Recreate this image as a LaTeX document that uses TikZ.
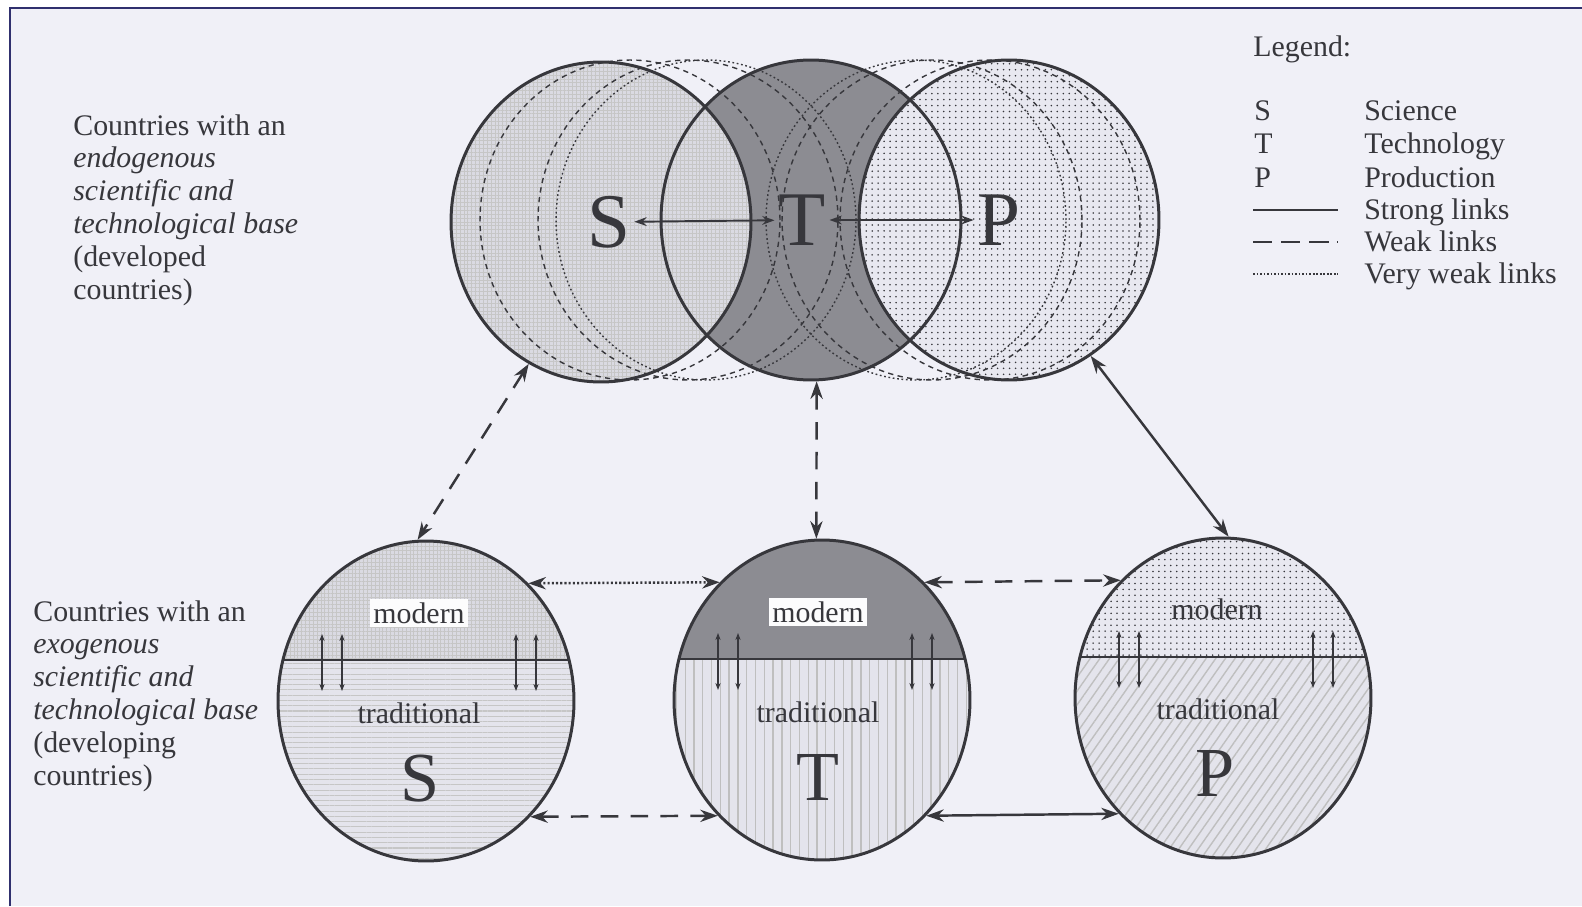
\documentclass[tikz,border=0pt]{standalone}
\usepackage{fontspec}
\setmainfont{Liberation Serif}
\usetikzlibrary{shapes.geometric,arrows.meta,patterns.meta,calc}

\definecolor{paper}{RGB}{240,240,247}
\definecolor{framecol}{RGB}{48,48,110}
\definecolor{ink}{RGB}{55,55,60}
\definecolor{techgray}{RGB}{140,140,146}
\definecolor{scigray}{RGB}{218,218,226}
\definecolor{prodgray}{RGB}{232,232,240}
\definecolor{tradgray}{RGB}{228,228,236}

\begin{document}
\begin{tikzpicture}[x=0.02cm, y=-0.02cm,
    every node/.style={font=\fontsize{17}{18.7}\selectfont, text=ink},
    bigcircle/.style={draw=ink, line width=1.7pt, ellipse, minimum width=6cm, minimum height=6.4cm, inner sep=0pt},
    smallcircle/.style={bigcircle, minimum width=5.92cm},
    bigletter/.style={font=\fontsize{44}{44}\selectfont, inner sep=2pt},
    lowletter/.style={font=\fontsize{40}{40}\selectfont, inner sep=2pt},
    modbox/.style={fill=white!80!paper, inner sep=2pt},
    linkstrong/.style={draw=ink, line width=1.4pt, {Stealth[length=10pt,width=7pt]}-{Stealth[length=10pt,width=7pt]}},
    linkweak/.style={linkstrong, dash pattern=on 10pt off 7pt},
    linkvweak/.style={linkstrong, dash pattern=on 1.2pt off 1.2pt},
    linkthin/.style={draw=ink, line width=1.1pt, {Stealth[length=7pt,width=5pt]}-{Stealth[length=7pt,width=5pt]}},
    tinylink/.style={draw=ink, line width=0.6pt, {Stealth[length=4pt,width=3pt]}-{Stealth[length=4pt,width=3pt]}},
    ghostdash/.style={draw=ink, line width=0.8pt, dash pattern=on 3pt off 2.5pt},
    ghostdot/.style={draw=ink, line width=0.8pt, dash pattern=on 1pt off 1.5pt},
    scimod/.style={preaction={fill=scigray}, pattern={Hatch[distance=2.2pt, line width=0.25pt]}, pattern color=gray!45},
    scitrad/.style={preaction={fill=tradgray}, pattern={Lines[angle=0, distance=3pt, line width=0.6pt]}, pattern color=gray!45},
    techmod/.style={fill=techgray},
    techtrad/.style={preaction={fill=tradgray}, pattern={Lines[angle=90, distance=5pt, line width=0.8pt]}, pattern color=gray!50},
    prodmod/.style={preaction={fill=prodgray}, pattern={Dots[distance=3.4pt, radius=0.5pt]}, pattern color=ink},
    prodtrad/.style={preaction={fill=tradgray}, pattern={Lines[angle=55, distance=4.5pt, line width=0.8pt]}, pattern color=gray!50},
    legline/.style={draw=ink, line width=1.6pt}]

    \useasboundingbox (0,0) rectangle (1582,906);
    \fill[white] (0,0) rectangle (1582,906);
    \fill[paper] (10,8) rectangle (1582,906);
    \draw[framecol, line width=1.5pt] (10,906) -- (10,8) -- (1582,8);

    \coordinate (topS) at (601,222);
    \coordinate (topT) at (811,220);
    \coordinate (topP) at (1009,220);
    \coordinate (lowS) at (426,701);
    \coordinate (lowT) at (822,700);
    \coordinate (lowP) at (1223,698);

    \fill[techmod] (topT) ellipse [x radius=3cm, y radius=3.2cm];
    \fill[scimod] (topS) ellipse [x radius=3cm, y radius=3.2cm];
    \fill[prodmod] (topP) ellipse [x radius=3cm, y radius=3.2cm];
    \foreach \x in {630,688,932,990}
      \draw[ghostdash] (\x,220) ellipse [x radius=3cm, y radius=3.2cm];
    \foreach \x in {706,916}
      \draw[ghostdot] (\x,220) ellipse [x radius=3cm, y radius=3.2cm];

    \node[bigcircle] (tS) at (topS) {};
    \node[bigcircle] (tT) at (topT) {};
    \node[bigcircle] (tP) at (topP) {};

    \node[bigletter] (ltS) at (609,222) {S};
    \node[bigletter] (ltT) at (802,220) {T};
    \node[bigletter] (ltP) at (999,220) {P};
    \draw[linkthin] (ltS) -- (ltT);
    \draw[linkthin] (ltT) -- (ltP);

    \foreach \c/\up/\down in {S/scimod/scitrad, T/techmod/techtrad, P/prodmod/prodtrad} {
      \begin{scope}
        \clip (low\c) ellipse [x radius=2.96cm, y radius=3.2cm];
        \fill[\up] ($(low\c)+(-160,-170)$) rectangle ($(low\c)+(160,-41)$);
        \fill[\down] ($(low\c)+(-160,-41)$) rectangle ($(low\c)+(160,170)$);
        \draw[ink, line width=1.5pt] ($(low\c)+(-160,-41)$) -- ($(low\c)+(160,-41)$);
      \end{scope}
      \foreach \dx in {-104,-84,90,110}
        \draw[tinylink] ($(low\c)+(\dx,-67)$) -- ++(0,57);
    }

    \node[smallcircle] (bS) at (lowS) {};
    \node[smallcircle] (bT) at (lowT) {};
    \node[smallcircle] (bP) at (lowP) {};

    \node[modbox] (mS) at (419,613) {modern};
    \node[modbox] (mT) at (818,612) {modern};
    \node[inner sep=2pt] (mP) at (1217,609) {modern};
    \node (trS) at (419,713) {traditional};
    \node (trT) at (818,712) {traditional};
    \node (trP) at (1218,709) {traditional};
    \node[lowletter] (lbS) at (420,779) {S};
    \node[lowletter] (lbT) at (818,777) {T};
    \node[lowletter] (lbP) at (1215,773) {P};

    \draw[linkweak] (tS.243) -- (bS.93);
    \draw[linkweak] (tT.272) -- (bT.92);
    \draw[linkstrong] (tP.301) -- (bP.88);
    \draw[linkvweak] (bS.49) -- (bT.131);
    \draw[linkweak] (bT.49) -- (bP.131);
    \draw[linkweak] (bS.-48) -- (bT.228);
    \draw[linkstrong] (bT.-48) -- (bP.228);

    \node[anchor=north west, align=left, inner sep=0pt] (devd) at (73,114)
      {Countries with an\\\textit{endogenous}\\\textit{scientific and}\\\textit{technological base}\\(developed\\countries)};
    \node[anchor=north west, align=left, inner sep=0pt] (devg) at (33,600)
      {Countries with an\\\textit{exogenous}\\\textit{scientific and}\\\textit{technological base}\\(developing\\countries)};

    \node[anchor=base west, inner sep=0pt] (lgHead) at (1253,56) {Legend:};
    \node[anchor=base west, inner sep=0pt] (lgS) at (1254,120) {S};
    \node[anchor=base west, inner sep=0pt] (lgT) at (1254,153) {T};
    \node[anchor=base west, inner sep=0pt] (lgP) at (1254,187) {P};
    \node[anchor=base west, inner sep=0pt] (lgSci) at (1364,120) {Science};
    \node[anchor=base west, inner sep=0pt] (lgTech) at (1364,153) {Technology};
    \node[anchor=base west, inner sep=0pt] (lgProd) at (1364,187) {Production};
    \node[anchor=base west, inner sep=0pt] (lgStrong) at (1364,219) {Strong links};
    \node[anchor=base west, inner sep=0pt] (lgWeak) at (1364,251) {Weak links};
    \node[anchor=base west, inner sep=0pt] (lgVweak) at (1364,283) {Very weak links};
    \coordinate (lgA1) at (1253,210);
    \coordinate (lgA2) at (1338,210);
    \coordinate (lgB1) at (1253,242);
    \coordinate (lgB2) at (1338,242);
    \coordinate (lgC1) at (1253,274);
    \coordinate (lgC2) at (1338,274);
    \draw[legline] (lgA1) -- (lgA2);
    \draw[legline, dash pattern=on 11pt off 5pt] (lgB1) -- (lgB2);
    \draw[legline, line width=1.2pt, dash pattern=on 1pt off 1pt] (lgC1) -- (lgC2);
\end{tikzpicture}
\end{document}
